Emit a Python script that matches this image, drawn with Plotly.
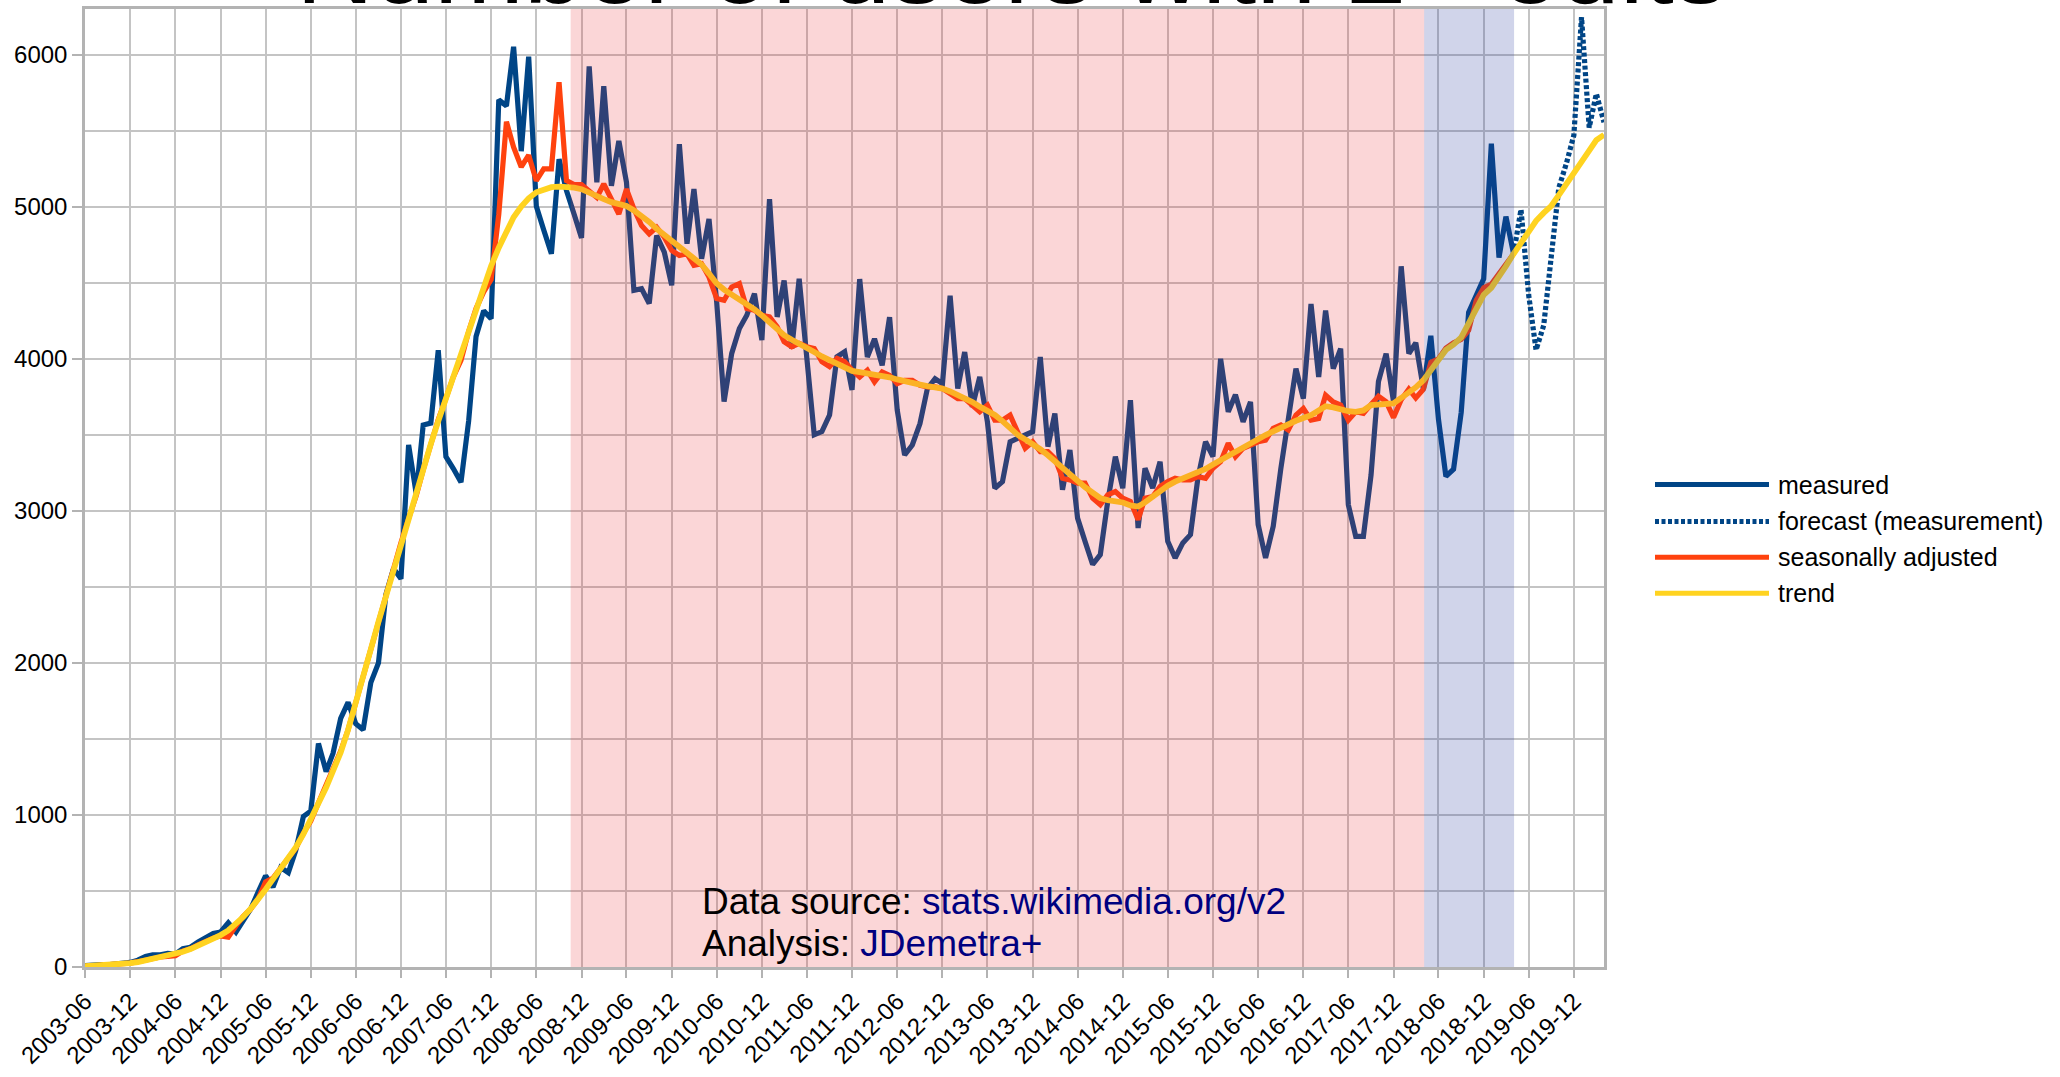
import pandas as pd
import plotly.graph_objects as go

# ---------------- data (monthly, first month 2003-06) ----------------
START_MONTH = "2003-06-01"
FORECAST_START = "2019-04-01"

measured = [
    10, 15, 15, 15, 20, 25, 30, 45, 70, 80,
    80, 90, 85, 120, 130, 165, 195, 220, 230, 290,
    230, 305, 380, 490, 600, 525, 655, 620, 765, 990,
    1025, 1470, 1285, 1405, 1635, 1740, 1600, 1560, 1870, 2000,
    2450, 2620, 2553, 3434, 3110, 3564, 3577, 4056, 3356, 3278,
    3188, 3590, 4147, 4315, 4263, 5702, 5663, 6052, 5365, 5987,
    5002, 4847, 4691, 5313, 5106, 4950, 4795, 5922, 5160, 5793,
    5138, 5432, 5160, 4450, 4461, 4363, 4810, 4701, 4483, 5411,
    4756, 5116, 4657, 4919, 4374, 3719, 4035, 4199, 4286, 4428,
    4123, 5050, 4275, 4515, 4068, 4526, 3981, 3500, 3521, 3630,
    4013, 4046, 3795, 4524, 4011, 4131, 3957, 4273, 3662, 3367,
    3433, 3574, 3804, 3869, 3836, 4415, 3804, 4044, 3684, 3880,
    3585, 3149, 3192, 3454, 3476, 3498, 3520, 4011, 3422, 3640,
    3138, 3400, 2952, 2800, 2647, 2712, 3061, 3356, 3149, 3727,
    2887, 3280, 3149, 3323, 2800, 2690, 2789, 2843, 3214, 3454,
    3356, 4000, 3651, 3764, 3585, 3716, 2909, 2690, 2898, 3280,
    3607, 3935, 3738, 4360, 3880, 4317, 3935, 4066, 3040, 2832,
    2832, 3236, 3850, 4034, 3718, 4608, 4034, 4105, 3800, 4151,
    3601, 3227, 3274, 3648, 4304, 4420, 4526, 5415, 4666, 4935,
    4690,
]

forecast = [4690, 4982, 4420, 4058, 4220, 4650, 5123, 5286, 5470, 6246, 5520, 5743, 5555]

seasonally_adjusted = [
    5, 8, 10, 12, 15, 20, 26, 35, 48, 58,
    66, 70, 75, 105, 120, 145, 170, 190, 205, 196,
    270, 330, 380, 445, 560, 585, 650, 710, 780, 880,
    960, 1080, 1200, 1300, 1420, 1560, 1740, 1900, 2110, 2290,
    2440, 2620, 2790, 2950, 3100, 3270, 3450, 3600, 3740, 3880,
    3990, 4180, 4330, 4440, 4520, 4950, 5559, 5391, 5261, 5339,
    5171, 5248, 5248, 5819, 5171, 5145, 5145, 5100, 5061, 5149,
    5050, 4952, 5116, 4985, 4876, 4821, 4865, 4799, 4712, 4679,
    4690, 4614, 4625, 4537, 4396, 4385, 4472, 4494, 4330, 4319,
    4286, 4275, 4210, 4112, 4079, 4101, 4079, 4068, 3981, 3948,
    4002, 3981, 3926, 3880, 3924, 3847, 3913, 3891, 3836, 3858,
    3858, 3826, 3815, 3815, 3804, 3771, 3738, 3738, 3695, 3651,
    3695, 3596, 3596, 3629, 3520, 3411, 3454, 3389, 3389, 3345,
    3214, 3203, 3182, 3182, 3083, 3040, 3105, 3127, 3083, 3062,
    2941, 3083, 3094, 3160, 3192, 3214, 3203, 3203, 3225, 3214,
    3280, 3323, 3444, 3356, 3411, 3433, 3454, 3465, 3542, 3564,
    3531, 3629, 3673, 3596, 3607, 3760, 3716, 3695, 3596, 3651,
    3640, 3700, 3754, 3718, 3613, 3730, 3800, 3742, 3800, 3976,
    4000, 4070, 4105, 4128, 4187, 4385, 4467, 4491, 4561, 4631,
    4690,
]

trend = [
    5, 7, 9, 11, 14, 19, 25, 32, 42, 52,
    62, 73, 85, 100, 118, 140, 163, 187, 210, 240,
    280, 327, 382, 441, 510, 578, 644, 710, 786, 873,
    970, 1070, 1180, 1290, 1410, 1560, 1730, 1910, 2090, 2270,
    2440, 2610, 2780, 2950, 3120, 3280, 3440, 3590, 3740, 3890,
    4040, 4190, 4340, 4480, 4610, 4730, 4840, 4930, 5000, 5055,
    5095, 5115, 5128, 5132, 5130, 5125, 5115, 5090, 5070, 5050,
    5030, 5018, 5005, 4975, 4940, 4900, 4855, 4815, 4775, 4740,
    4705, 4670, 4620, 4560, 4495, 4455, 4425, 4395, 4360, 4325,
    4285, 4240, 4195, 4155, 4125, 4095, 4068, 4045, 4015, 3992,
    3970, 3945, 3920, 3912, 3905, 3898, 3891, 3878, 3864, 3850,
    3840, 3830, 3820, 3812, 3804, 3785, 3762, 3740, 3715, 3685,
    3660, 3630, 3590, 3545, 3500, 3470, 3440, 3405, 3365, 3325,
    3285, 3240, 3192, 3155, 3120, 3083, 3070, 3063, 3055, 3035,
    3028, 3055, 3094, 3130, 3165, 3192, 3212, 3230, 3247, 3275,
    3305, 3334, 3362, 3392, 3422, 3448, 3473, 3498, 3523, 3548,
    3574, 3592, 3610, 3629, 3660, 3688, 3680, 3665, 3655, 3651,
    3660, 3695, 3700, 3703, 3707, 3742, 3777, 3812, 3859, 3929,
    4000, 4058, 4093, 4140, 4233, 4327, 4420, 4467, 4537, 4608,
    4690, 4760, 4842, 4907, 4959, 5006, 5076, 5146, 5221, 5298,
    5368, 5438, 5473,
]

series_names = ["measured", "forecast (measurement)", "seasonally adjusted", "trend"]
series_colors = ["#004586", "#004586", "#ff420e", "#ffd320"]
series_dash = ["solid", "4px,2.5px", "solid", "solid"]

# highlighted periods
pink_period = ("2008-10-18", "2018-04-04")
blue_period = ("2018-04-04", "2019-04-03")

title_text = "Number of users with 2+ edits"
source_label = "Data source: "
source_link = "stats.wikimedia.org/v2"
analysis_label = "Analysis: "
analysis_link = "JDemetra+"

# ---------------- build figure ----------------
months = pd.date_range(START_MONTH, periods=len(trend), freq="MS")
x_meas = months[: len(measured)]
x_sa = months[: len(seasonally_adjusted)]
x_fc = pd.date_range(FORECAST_START, periods=len(forecast), freq="MS")

FONT = "Liberation Sans, Arial, sans-serif"
LW = 5.2

fig = go.Figure()
series_x = [x_meas, x_fc, x_sa, months]
series_y = [measured, forecast, seasonally_adjusted, trend]
for name, xs, ys, col, dash in zip(series_names, series_x, series_y, series_colors, series_dash):
    fig.add_trace(go.Scatter(
        x=xs, y=ys, mode="lines", name=name, showlegend=False,
        line=dict(color=col, width=LW if name != "trend" else 5.8, dash=dash),
    ))

# shaded periods, drawn over the lines (semi-transparent)
fig.add_shape(type="rect", xref="x", yref="paper", x0=pink_period[0], x1=pink_period[1],
              y0=0, y1=1, fillcolor="rgba(235,50,55,0.2)", line=dict(width=0), layer="above")
fig.add_shape(type="rect", xref="x", yref="paper", x0=blue_period[0], x1=blue_period[1],
              y0=0, y1=1, fillcolor="rgba(40,60,160,0.22)", line=dict(width=0), layer="above")

# manual legend (long line samples like the original)
W, H = 2060, 1077
ML, MR, MT, MB = 85, 456, 6, 110
PW, PH = W - ML - MR, H - MT - MB


def px_to_paper_x(px):
    return (px - ML) / PW


def px_to_paper_y(py):
    return (H - MB - py) / PH


legend_rows_px = [483, 520, 556, 592]
for name, col, dash, py in zip(series_names, series_colors, series_dash, legend_rows_px):
    fig.add_shape(type="line", xref="paper", yref="paper",
                  x0=px_to_paper_x(1655), x1=px_to_paper_x(1769),
                  y0=px_to_paper_y(py), y1=px_to_paper_y(py),
                  line=dict(color=col, width=5, dash=dash), layer="above")
    fig.add_annotation(xref="paper", yref="paper", x=px_to_paper_x(1776), y=px_to_paper_y(py),
                       xanchor="left", yanchor="middle", showarrow=False, text=name,
                       font=dict(family=FONT, size=25, color="#000000"))

# source annotations
fig.add_annotation(xref="paper", yref="paper", x=px_to_paper_x(700), y=px_to_paper_y(901),
                   xanchor="left", yanchor="middle", showarrow=False,
                   text=source_label + f'<span style="color:#000080">{source_link}</span>',
                   font=dict(family=FONT, size=37, color="#000000"))
fig.add_annotation(xref="paper", yref="paper", x=px_to_paper_x(700), y=px_to_paper_y(943),
                   xanchor="left", yanchor="middle", showarrow=False,
                   text=analysis_label + f'<span style="color:#000080">{analysis_link}</span>',
                   font=dict(family=FONT, size=37, color="#000000"))

# title, mostly cut off at the top like the original
fig.add_annotation(xref="paper", yref="paper", x=px_to_paper_x(1012), y=1,
                   xanchor="center", yanchor="bottom", yshift=-19, showarrow=False,
                   text=title_text, font=dict(family=FONT, size=108, color="#000000"))

GRID = "#c4c4c4"
AX = "#b3b3b3"
fig.update_layout(
    width=W, height=H,
    margin=dict(l=ML, r=MR, t=MT, b=MB, pad=0),
    paper_bgcolor="white", plot_bgcolor="white",
    font=dict(family=FONT, size=24, color="#000000"),
    showlegend=False,
    xaxis=dict(
        type="date", range=["2003-06-01", "2020-04-01"],
        tick0="2003-06-01", dtick="M6", tickformat="%Y-%m", tickangle=-45,
        showgrid=True, gridcolor=GRID, gridwidth=2,
        showline=True, linecolor=AX, linewidth=2.5, mirror=True,
        ticks="outside", ticklen=8, tickwidth=2, tickcolor=AX,
        tickfont=dict(family=FONT, size=24, color="#000000"),
        zeroline=False,
    ),
    yaxis=dict(
        range=[0, 6300], dtick=1000, tick0=0,
        showgrid=True, gridcolor=GRID, gridwidth=2,
        minor=dict(dtick=500, showgrid=True, gridcolor=GRID, gridwidth=2),
        showline=True, linecolor=AX, linewidth=2.5, mirror=True,
        ticks="outside", ticklen=10, tickwidth=2, tickcolor=AX,
        tickfont=dict(family=FONT, size=24, color="#000000"),
        zeroline=False,
    ),
)

fig.write_html("out.html", config={"displayModeBar": False},
               post_script="document.body.style.margin='0px';document.body.style.overflow='hidden';")
